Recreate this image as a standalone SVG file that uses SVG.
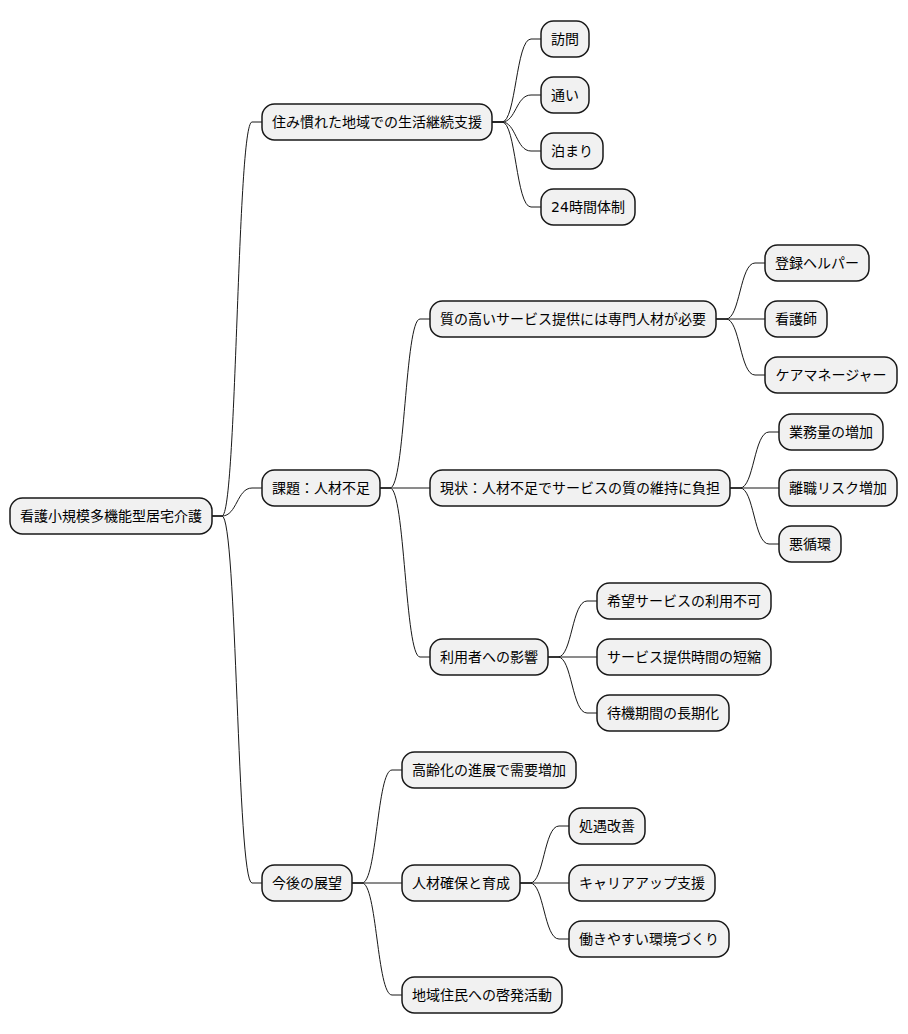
<svg xmlns="http://www.w3.org/2000/svg" width="908" height="1034" viewBox="0 0 908 1034">
<style>
.n rect{fill:#F1F1F1;stroke:#181818;stroke-width:1.5}
.n text{font-family:"DejaVu Sans","Noto Sans CJK JP",sans-serif;font-size:14px;fill:#000;text-anchor:middle}
#links path{fill:none;stroke:#181818;stroke-width:1}
</style>
<rect width="908" height="1034" fill="#FFFFFF"/>
<g id="links">
<path d="M212,516 L222,516 C237,516 237,122 252,122 L262,122"/>
<path d="M212,516 L222,516 C237,516 237,488 252,488 L262,488"/>
<path d="M212,516 L222,516 C237,516 237,883 252,883 L262,883"/>
<path d="M492,122 L502,122 C516,122 516,39 531,39 L541,39"/>
<path d="M492,122 L502,122 C516,122 516,95 531,95 L541,95"/>
<path d="M492,122 L502,122 C516,122 516,151 531,151 L541,151"/>
<path d="M492,122 L502,122 C516,122 516,207 531,207 L541,207"/>
<path d="M380,488 L390,488 C405,488 405,319 420,319 L430,319"/>
<path d="M380,488 L430,488"/>
<path d="M380,488 L390,488 C405,488 405,657 420,657 L430,657"/>
<path d="M716,319 L726,319 C740,319 740,263 755,263 L765,263"/>
<path d="M716,319 L765,319"/>
<path d="M716,319 L726,319 C740,319 740,375 755,375 L765,375"/>
<path d="M730,488 L740,488 C754,488 754,432 769,432 L779,432"/>
<path d="M730,488 L779,488"/>
<path d="M730,488 L740,488 C754,488 754,544 769,544 L779,544"/>
<path d="M548,657 L558,657 C572,657 572,601 587,601 L597,601"/>
<path d="M548,657 L597,657"/>
<path d="M548,657 L558,657 C572,657 572,713 587,713 L597,713"/>
<path d="M352,883 L362,883 C377,883 377,770 392,770 L402,770"/>
<path d="M352,883 L402,883"/>
<path d="M352,883 L362,883 C377,883 377,995 392,995 L402,995"/>
<path d="M520,883 L530,883 C544,883 544,826 559,826 L569,826"/>
<path d="M520,883 L569,883"/>
<path d="M520,883 L530,883 C544,883 544,939 559,939 L569,939"/>
</g>
<g id="root" class="n"><rect x="10" y="498" width="202" height="36" rx="12.5"/><text x="111" y="521">看護小規模多機能型居宅介護</text></g>
<g id="n1" class="n"><rect x="262" y="104" width="230" height="36" rx="12.5"/><text x="377" y="127">住み慣れた地域での生活継続支援</text></g>
<g id="n1a" class="n"><rect x="541" y="21" width="48" height="36" rx="12.5"/><text x="565" y="44">訪問</text></g>
<g id="n1b" class="n"><rect x="541" y="77" width="48" height="36" rx="12.5"/><text x="565" y="100">通い</text></g>
<g id="n1c" class="n"><rect x="541" y="133" width="62" height="36" rx="12.5"/><text x="572" y="156">泊まり</text></g>
<g id="n1d" class="n"><rect x="541" y="189" width="94" height="36" rx="12.5"/><text x="588" y="212">24時間体制</text></g>
<g id="n2" class="n"><rect x="262" y="470" width="118" height="36" rx="12.5"/><text x="321" y="493">課題：人材不足</text></g>
<g id="n2a" class="n"><rect x="430" y="301" width="286" height="36" rx="12.5"/><text x="573" y="324">質の高いサービス提供には専門人材が必要</text></g>
<g id="n2a1" class="n"><rect x="765" y="245" width="104" height="36" rx="12.5"/><text x="817" y="268">登録ヘルパー</text></g>
<g id="n2a2" class="n"><rect x="765" y="301" width="62" height="36" rx="12.5"/><text x="796" y="324">看護師</text></g>
<g id="n2a3" class="n"><rect x="765" y="357" width="132" height="36" rx="12.5"/><text x="831" y="380">ケアマネージャー</text></g>
<g id="n2b" class="n"><rect x="430" y="470" width="300" height="36" rx="12.5"/><text x="580" y="493">現状：人材不足でサービスの質の維持に負担</text></g>
<g id="n2b1" class="n"><rect x="779" y="414" width="104" height="36" rx="12.5"/><text x="831" y="437">業務量の増加</text></g>
<g id="n2b2" class="n"><rect x="779" y="470" width="118" height="36" rx="12.5"/><text x="838" y="493">離職リスク増加</text></g>
<g id="n2b3" class="n"><rect x="779" y="526" width="62" height="36" rx="12.5"/><text x="810" y="549">悪循環</text></g>
<g id="n2c" class="n"><rect x="430" y="639" width="118" height="36" rx="12.5"/><text x="489" y="662">利用者への影響</text></g>
<g id="n2c1" class="n"><rect x="597" y="583" width="174" height="36" rx="12.5"/><text x="684" y="606">希望サービスの利用不可</text></g>
<g id="n2c2" class="n"><rect x="597" y="639" width="174" height="36" rx="12.5"/><text x="684" y="662">サービス提供時間の短縮</text></g>
<g id="n2c3" class="n"><rect x="597" y="695" width="132" height="36" rx="12.5"/><text x="663" y="718">待機期間の長期化</text></g>
<g id="n3" class="n"><rect x="262" y="865" width="90" height="36" rx="12.5"/><text x="307" y="888">今後の展望</text></g>
<g id="n3a" class="n"><rect x="402" y="752" width="174" height="36" rx="12.5"/><text x="489" y="775">高齢化の進展で需要増加</text></g>
<g id="n3b" class="n"><rect x="402" y="865" width="118" height="36" rx="12.5"/><text x="461" y="888">人材確保と育成</text></g>
<g id="n3b1" class="n"><rect x="569" y="808" width="76" height="36" rx="12.5"/><text x="607" y="831">処遇改善</text></g>
<g id="n3b2" class="n"><rect x="569" y="865" width="146" height="36" rx="12.5"/><text x="642" y="888">キャリアアップ支援</text></g>
<g id="n3b3" class="n"><rect x="569" y="921" width="160" height="36" rx="12.5"/><text x="649" y="944">働きやすい環境づくり</text></g>
<g id="n3c" class="n"><rect x="402" y="977" width="160" height="36" rx="12.5"/><text x="482" y="1000">地域住民への啓発活動</text></g>
</svg>
